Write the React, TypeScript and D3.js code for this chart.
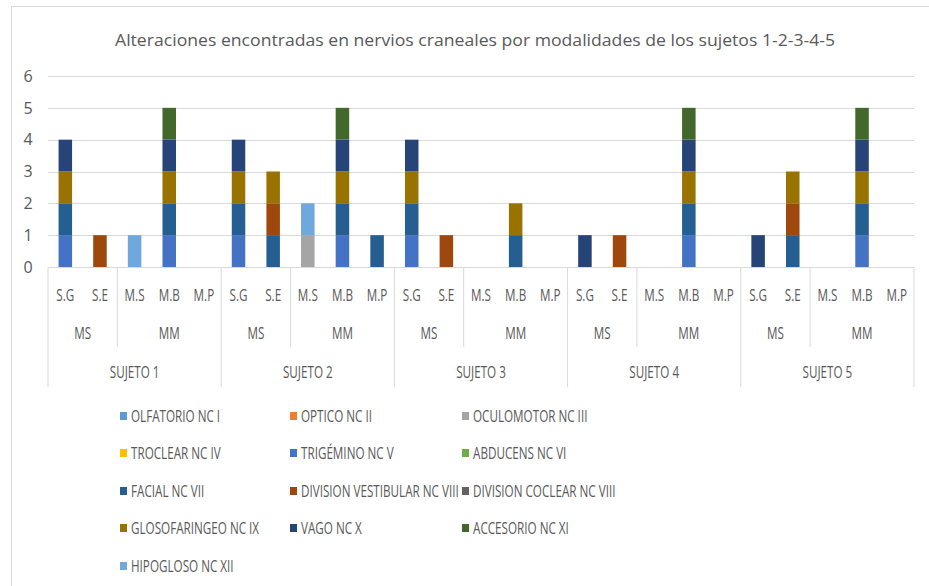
import React from "react";
import * as d3 from "d3";

const TITLE = "Alteraciones encontradas en nervios craneales por modalidades de los sujetos 1-2-3-4-5";
const subjects = ["SUJETO 1", "SUJETO 2", "SUJETO 3", "SUJETO 4", "SUJETO 5"];
const groups = ["MS", "MM"];
const groupMods = [["S.G", "S.E"], ["M.S", "M.B", "M.P"]];
const yTicks = [0, 1, 2, 3, 4, 5, 6];

const seriesNames = [
  "OLFATORIO NC I", "OPTICO NC II", "OCULOMOTOR NC III",
  "TROCLEAR NC IV", "TRIGÉMINO NC V", "ABDUCENS NC VI",
  "FACIAL NC VII", "DIVISION VESTIBULAR NC VIII", "DIVISION COCLEAR NC VIII",
  "GLOSOFARINGEO NC IX", "VAGO NC X", "ACCESORIO NC XI",
  "HIPOGLOSO NC XII",
];
const seriesColors = [
  "#5B9BD5", "#ED7D31", "#A5A5A5", "#FFC000", "#4472C4", "#70AD47",
  "#255E91", "#9E480E", "#636363", "#997300", "#264478", "#43682B", "#6FA8DC",
];

// 25 categories: per subject S.G, S.E, M.S, M.B, M.P
const olfatorio    = [0,0,0,0,0, 0,0,0,0,0, 0,0,0,0,0, 0,0,0,0,0, 0,0,0,0,0];
const optico       = [0,0,0,0,0, 0,0,0,0,0, 0,0,0,0,0, 0,0,0,0,0, 0,0,0,0,0];
const oculomotor   = [0,0,0,0,0, 0,0,1,0,0, 0,0,0,0,0, 0,0,0,0,0, 0,0,0,0,0];
const troclear     = [0,0,0,0,0, 0,0,0,0,0, 0,0,0,0,0, 0,0,0,0,0, 0,0,0,0,0];
const trigemino    = [1,0,0,1,0, 1,0,0,1,0, 1,0,0,0,0, 0,0,0,1,0, 0,0,0,1,0];
const abducens     = [0,0,0,0,0, 0,0,0,0,0, 0,0,0,0,0, 0,0,0,0,0, 0,0,0,0,0];
const facial       = [1,0,0,1,0, 1,1,0,1,1, 1,0,0,1,0, 0,0,0,1,0, 0,1,0,1,0];
const divVest      = [0,1,0,0,0, 0,1,0,0,0, 0,1,0,0,0, 0,1,0,0,0, 0,1,0,0,0];
const divCoclear   = [0,0,0,0,0, 0,0,0,0,0, 0,0,0,0,0, 0,0,0,0,0, 0,0,0,0,0];
const glosofaring  = [1,0,0,1,0, 1,1,0,1,0, 1,0,0,1,0, 0,0,0,1,0, 0,1,0,1,0];
const vago         = [1,0,0,1,0, 1,0,0,1,0, 1,0,0,0,0, 1,0,0,1,0, 1,0,0,1,0];
const accesorio    = [0,0,0,1,0, 0,0,0,1,0, 0,0,0,0,0, 0,0,0,1,0, 0,0,0,1,0];
const hipogloso    = [0,0,1,0,0, 0,0,1,0,0, 0,0,0,0,0, 0,0,0,0,0, 0,0,0,0,0];

const seriesValues = [
  olfatorio, optico, oculomotor, troclear, trigemino, abducens,
  facial, divVest, divCoclear, glosofaring, vago, accesorio, hipogloso,
];

const W = 929, H = 586;
const FONT = "'Open Sans', sans-serif";
const TXT = "#595959";
const GRID = "#D9D9D9";
const SQ = 0.73;

function T({ x, y, anchor = "start", size = 16, children }: any) {
  return (
    <text transform={`translate(${x},${y}) scale(${SQ},1)`} dy="0.36em" textAnchor={anchor} fontSize={size} fill={TXT}>
      {children}
    </text>
  );
}

export default function App() {
  const left = 48, right = 914, top = 76, bottom = 267;
  const cats: { id: string; subj: number; grp: number; mod: string }[] = [];
  subjects.forEach((s, si) =>
    groups.forEach((g, gi) =>
      groupMods[gi].forEach((m) => cats.push({ id: `${si}-${gi}-${m}`, subj: si, grp: gi, mod: m }))
    )
  );
  const x = d3.scaleBand<string>().domain(cats.map((c) => c.id)).range([left, right])
    .paddingInner(0.61).paddingOuter(0.305);
  const step = x.step();
  const y = d3.scaleLinear().domain([0, 6]).range([bottom, top]);

  const table = cats.map((c, i) => {
    const row: any = { id: c.id };
    seriesNames.forEach((n, si) => (row[n] = seriesValues[si][i]));
    return row;
  });
  const stacked = d3.stack<any>().keys(seriesNames)(table);

  const subjStart = (si: number) => left + si * 5 * step;
  const grpLines: number[] = subjects.map((_, si) => subjStart(si) + 2 * step);
  const subjLines = d3.range(6).map((i) => left + i * 5 * step);

  const legendCols = [120, 290, 462];
  const legendRows = [416, 453, 491, 528, 566];

  return (
    <svg width={W} height={H} style={{ position: "absolute", left: 0, top: 0 }} fontFamily={FONT}>
      <rect x={0} y={0} width={W} height={H} fill="#fff" />
      <rect x={11.5} y={6.5} width={W} height={H} fill="none" stroke={GRID} />
      <text x={475} y={46} textAnchor="middle" fontSize={17} fill={TXT} textLength={720} lengthAdjust="spacingAndGlyphs">{TITLE}</text>
      {yTicks.map((t) => (
        <g key={t}>
          <line x1={left} x2={right} y1={Math.round(y(t)) + 0.5} y2={Math.round(y(t)) + 0.5} stroke={GRID} strokeWidth={1.2} />
          <text x={28} y={y(t)} dy="0.36em" textAnchor="middle" fontSize={16} fill={TXT}>{t}</text>
        </g>
      ))}
      {stacked.map((s, si) => (
        <g key={s.key} fill={seriesColors[si]}>
          {s.map((d, i) => d[1] - d[0] > 0 ? (
            <rect key={i} x={x(cats[i].id)} width={x.bandwidth()} y={y(d[1])} height={y(d[0]) - y(d[1])} />
          ) : null)}
        </g>
      ))}
      {grpLines.map((gx, i) => (
        <line key={"g" + i} x1={gx} x2={gx} y1={bottom} y2={347} stroke={GRID} />
      ))}
      {subjLines.map((sx, i) => (
        <line key={"s" + i} x1={sx} x2={sx} y1={bottom} y2={387} stroke={GRID} />
      ))}
      {cats.map((c) => (
        <T key={c.id} x={(x(c.id) as number) + x.bandwidth() / 2} y={295} anchor="middle">{c.mod}</T>
      ))}
      {subjects.map((s, si) => (
        <g key={s}>
          <T x={subjStart(si) + step} y={333} anchor="middle">{groups[0]}</T>
          <T x={subjStart(si) + 3.5 * step} y={333} anchor="middle">{groups[1]}</T>
          <T x={subjStart(si) + 2.5 * step} y={372} anchor="middle">{s}</T>
        </g>
      ))}
      {seriesNames.map((n, i) => {
        const cx = legendCols[i % 3];
        const cy = legendRows[Math.floor(i / 3)];
        return (
          <g key={n}>
            <rect x={cx} y={cy - 4} width={7} height={8} fill={seriesColors[i]} />
            <T x={cx + 11} y={cy}>{n}</T>
          </g>
        );
      })}
    </svg>
  );
}
